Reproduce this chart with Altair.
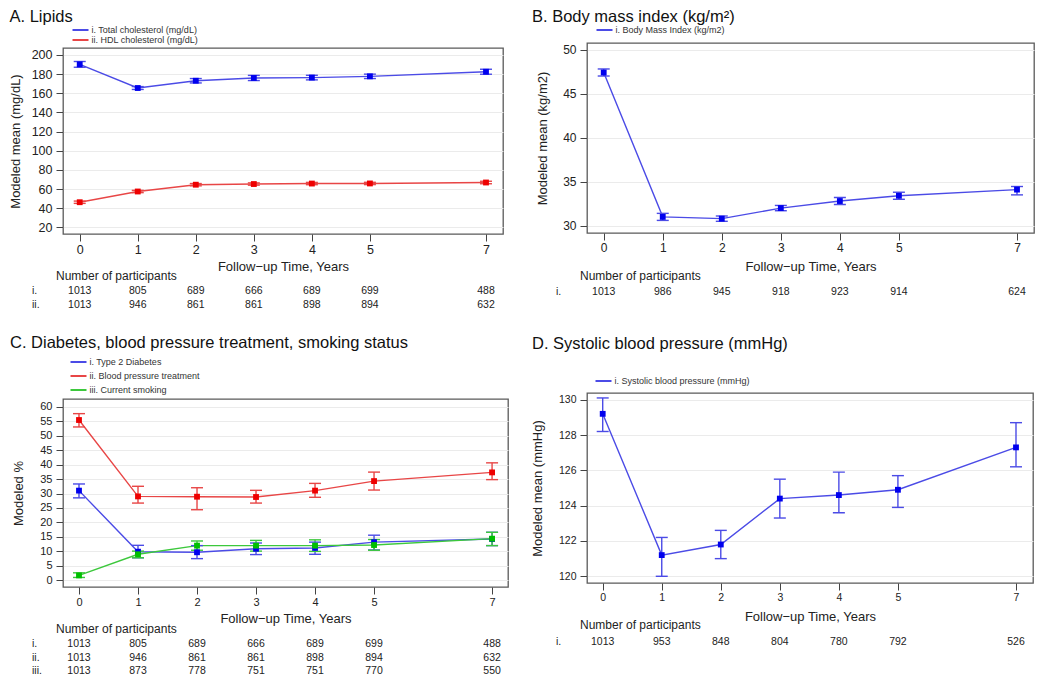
import altair as alt
import pandas as pd

FONT = "Liberation Sans"
years = [0, 1, 2, 3, 4, 5, 7]
roman = ["i.", "ii.", "iii."]

# ---------------- Panel A: Lipids ----------------
a_names = ["i. Total cholesterol (mg/dL)", "ii. HDL cholesterol (mg/dL)"]
a_tc_mean = [190.2, 165.5, 173.1, 176.0, 176.4, 177.7, 182.5]
a_tc_lo = [187.2, 164.0, 170.8, 173.3, 174.0, 175.4, 179.9]
a_tc_hi = [193.2, 167.0, 175.4, 178.7, 178.8, 180.0, 185.1]
a_hdl_mean = [46.2, 57.4, 64.5, 65.2, 65.7, 65.8, 66.8]
a_hdl_lo = [45.0, 56.2, 63.3, 64.0, 64.5, 64.6, 65.5]
a_hdl_hi = [47.4, 58.6, 65.7, 66.4, 66.9, 67.0, 68.1]
a_n_i = [1013, 805, 689, 666, 689, 699, 488]
a_n_ii = [1013, 946, 861, 861, 898, 894, 632]

# ---------------- Panel B: BMI ----------------
b_names = ["i. Body Mass Index (kg/m2)"]
b_mean = [47.4, 31.0, 30.8, 32.0, 32.8, 33.4, 34.1]
b_lo = [47.0, 30.6, 30.5, 31.7, 32.4, 33.0, 33.5]
b_hi = [47.8, 31.4, 31.1, 32.3, 33.2, 33.8, 34.45]
b_n_i = [1013, 986, 945, 918, 923, 914, 624]

# ---------------- Panel C: diabetes, BP treatment, smoking ----------------
c_names = ["i. Type 2 Diabetes", "ii. Blood pressure treatment", "iii. Current smoking"]
c_t2d_mean = [31.0, 9.9, 9.7, 10.9, 11.2, 13.2, 14.3]
c_t2d_lo = [28.5, 7.8, 7.5, 8.9, 9.0, 10.5, 12.0]
c_t2d_hi = [33.3, 12.1, 12.0, 12.9, 13.2, 15.6, 16.6]
c_bp_mean = [55.4, 29.0, 28.9, 28.8, 31.0, 34.3, 37.3]
c_bp_lo = [53.0, 26.7, 24.4, 26.7, 28.7, 31.2, 34.8]
c_bp_hi = [57.6, 32.5, 32.0, 31.1, 33.5, 37.4, 40.6]
c_sm_mean = [1.7, 9.0, 12.0, 12.0, 12.0, 12.2, 14.4]
c_sm_lo = [1.0, 7.8, 10.4, 10.1, 10.0, 10.4, 12.0]
c_sm_hi = [2.6, 10.1, 13.6, 13.8, 14.0, 14.1, 16.6]
c_n_i = [1013, 805, 689, 666, 689, 699, 488]
c_n_ii = [1013, 946, 861, 861, 898, 894, 632]
c_n_iii = [1013, 873, 778, 751, 751, 770, 550]

# ---------------- Panel D: systolic BP ----------------
d_names = ["i. Systolic blood pressure (mmHg)"]
d_mean = [129.2, 121.2, 121.8, 124.4, 124.6, 124.9, 127.3]
d_lo = [128.2, 120.0, 121.0, 123.3, 123.6, 123.9, 126.2]
d_hi = [130.1, 122.2, 122.6, 125.5, 125.9, 125.7, 128.7]
d_n_i = [1013, 953, 848, 804, 780, 792, 526]

BLUE_L, BLUE_P = "#4b4be6", "#0000ee"
RED_L, RED_P = "#e84646", "#ee0000"
GREEN_L, GREEN_P = "#3cc83c", "#00c000"
TXT = "#222222"

IND = dict(x="independent", y="independent", stroke="independent",
           color="independent", fill="independent")


def panel(names, means, los, his, counts, line_cols, point_cols, xdom, ydom, yticks,
          w, h, title, title_dx, title_dy, ytitle, ytitle_x, xtitle_y, tick_fs,
          leg_x, leg_y, leg_rowpad, num_y, rows_y):
    recs = []
    for nm, m, lo, hi in zip(names, means, los, his):
        for yr, a, b, c in zip(years, m, lo, hi):
            recs.append({"series": nm, "year": yr, "mean": a, "lo": b, "hi": c})
    df = pd.DataFrame(recs)

    xaxis = alt.Axis(values=years, format="d", tickSize=7, tickColor="#444", tickWidth=1,
                     labelFontSize=tick_fs, labelColor=TXT, labelFont=FONT, labelPadding=2,
                     labelFlush=False, labelOverlap=False, grid=False, domain=False,
                     title="Follow\u2212up Time, Years", titleFont=FONT, titleFontSize=13,
                     titleFontWeight="normal", titleColor=TXT, titleX=w / 2, titleY=xtitle_y,
                     titleBaseline="middle", titleAlign="center")
    yaxis = alt.Axis(values=yticks, tickSize=7, tickColor="#444", tickWidth=1,
                     labelFontSize=tick_fs, labelColor=TXT, labelFont=FONT, labelPadding=4,
                     labelFlush=False, labelOverlap=False, grid=True, gridColor="#ebebeb",
                     gridWidth=1, domain=False, title=ytitle, titleFont=FONT, titleFontSize=13,
                     titleFontWeight="normal", titleColor=TXT, titleX=ytitle_x, titleY=h / 2,
                     titleBaseline="middle", titleAlign="center", titleAngle=270)
    xs = alt.Scale(domain=xdom, nice=False, zero=False)
    ys = alt.Scale(domain=ydom, nice=False, zero=False)

    def X():
        return alt.X("year:Q", scale=xs, axis=xaxis)

    def Y(f):
        return alt.Y(f + ":Q", scale=ys, axis=yaxis)

    legend = alt.Legend(orient="none", legendX=leg_x, legendY=leg_y, title=None,
                        symbolType="M-2,0H2", symbolSize=64, symbolStrokeWidth=2,
                        labelFontSize=9, labelFont=FONT, labelColor="#333333",
                        rowPadding=leg_rowpad, padding=0, labelOffset=6, direction="vertical")
    stroke = alt.Stroke("series:N", scale=alt.Scale(domain=names, range=line_cols), legend=legend)
    base = alt.Chart(df)
    layers = [
        base.mark_line(strokeWidth=1.4).encode(x=X(), y=Y("mean"), stroke=stroke),
        base.mark_rule(strokeWidth=1.4).encode(x=X(), y=Y("lo"), y2="hi:Q", stroke=stroke),
        base.mark_tick(orient="horizontal", size=12, thickness=1.4, opacity=1).encode(
            x=X(), y=Y("lo"),
            color=alt.Color("series:N", scale=alt.Scale(domain=names, range=line_cols), legend=None)),
        base.mark_tick(orient="horizontal", size=12, thickness=1.4, opacity=1).encode(
            x=X(), y=Y("hi"),
            color=alt.Color("series:N", scale=alt.Scale(domain=names, range=line_cols), legend=None)),
        base.mark_square(size=34, opacity=1).encode(
            x=X(), y=Y("mean"),
            fill=alt.Fill("series:N", scale=alt.Scale(domain=names, range=point_cols), legend=None)),
    ]
    # participants table
    for i, cnt in enumerate(counts):
        dfn = pd.DataFrame({"year": years, "n": cnt})
        layers.append(alt.Chart(dfn).mark_text(fontSize=10.5, font=FONT, color=TXT, baseline="middle")
                      .encode(x=X(), y=alt.value(h + rows_y[i]), text="n:Q"))
        layers.append(alt.Chart(pd.DataFrame({"r": [roman[i]]}))
                      .mark_text(fontSize=10.5, font=FONT, color=TXT, baseline="middle", align="left")
                      .encode(x=alt.value(-31), y=alt.value(h + rows_y[i]), text="r:N"))
    layers.append(alt.Chart(pd.DataFrame({"t": ["Number of participants"]}))
                  .mark_text(fontSize=12, font=FONT, color=TXT, baseline="middle", align="left")
                  .encode(x=alt.value(-7), y=alt.value(h + num_y), text="t:N"))
    layers.append(alt.Chart(pd.DataFrame({"t": [title]}))
                  .mark_text(fontSize=16.5, font=FONT, color="#111111", baseline="alphabetic", align="left")
                  .encode(x=alt.value(title_dx), y=alt.value(title_dy), text="t:N"))
    return alt.layer(*layers).properties(width=w, height=h)


A = panel(a_names, [a_tc_mean, a_hdl_mean], [a_tc_lo, a_hdl_lo], [a_tc_hi, a_hdl_hi],
          [a_n_i, a_n_ii], [BLUE_L, RED_L], [BLUE_P, RED_P],
          [-0.288, 7.293], [13.0, 207.3], list(range(20, 201, 20)),
          440, 186, "A. Lipids", -53.5, -26, "Modeled mean (mg/dL)", -48, 32, 12.5,
          12.5, -23, 0, 42, [57, 71])
B = panel(b_names, [b_mean], [b_lo], [b_hi], [b_n_i], [BLUE_L], [BLUE_P],
          [-0.283, 7.288], [29.17, 50.75], [30, 35, 40, 45, 50],
          447, 190, "B. Body mass index (kg/m\u00b2)", -55, -21, "Modeled mean (kg/m2)", -45, 33, 12,
          12.5, -18, 0, 43, [59])
C = panel(c_names, [c_t2d_mean, c_bp_mean, c_sm_mean], [c_t2d_lo, c_bp_lo, c_sm_lo],
          [c_t2d_hi, c_bp_hi, c_sm_hi], [c_n_i, c_n_ii, c_n_iii],
          [BLUE_L, RED_L, GREEN_L], [BLUE_P, RED_P, GREEN_P],
          [-0.271, 7.27], [-2.3, 62.66], list(range(0, 61, 5)),
          445, 188, "C. Diabetes, blood pressure treatment, smoking status", -53, -51.3, "Modeled %", -45, 31.5, 11,
          10.5, -42, 4, 42, [56.5, 71, 84])
D = panel(d_names, [d_mean], [d_lo], [d_hi], [d_n_i], [BLUE_L], [BLUE_P],
          [-0.266, 7.288], [119.62, 130.38], list(range(120, 131, 2)),
          446, 190, "D. Systolic blood pressure (mmHg)", -55, -43.7, "Modeled mean (mmHg)", -50, 33, 10.5,
          11.5, -17, 0, 42, [59])

spacer = (alt.Chart(pd.DataFrame({"v": [0]})).mark_point(opacity=0)
          .encode(x=alt.value(0), y=alt.value(0))
          .properties(width=445, height=5, view=alt.ViewBackground(strokeOpacity=0)))

inner_left = alt.vconcat(A, C, spacing=165, bounds="flush").resolve_scale(**IND)
left = alt.vconcat(spacer, inner_left, spacing=0, bounds="flush").resolve_scale(**IND)
right = alt.vconcat(B, D, spacing=160, bounds="flush").resolve_scale(**IND)
chart = (alt.hconcat(left, right, spacing=21, bounds="full")
         .resolve_scale(**IND)
         .properties(padding=0, background="white")
         .configure(font=FONT)
         .configure_view(stroke="#5a5a5a", strokeWidth=1.3))

chart.save("out.html", embed_options={"renderer": "svg", "actions": False})
